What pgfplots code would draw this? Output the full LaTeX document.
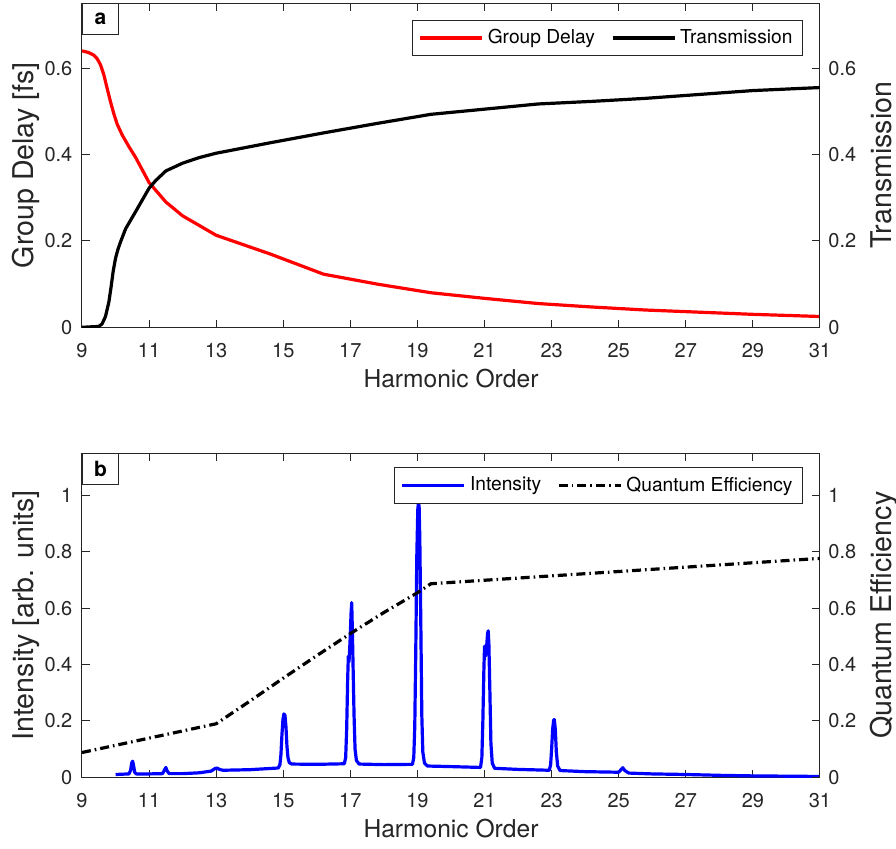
\documentclass[border=0pt]{standalone}
\usepackage{fontspec}
\setmainfont{TeX Gyre Heros}
\usepackage{pgfplots}
\pgfplotsset{compat=1.18}
\definecolor{axc}{gray}{0.15}

\tikzset{
  boxlab/.style={draw=axc, fill=white, line width=0.5pt, anchor=north west,
    minimum width=18pt, minimum height=15.4pt, inner sep=0pt,
    font=\fontsize{10.5}{12}\selectfont\bfseries},
}
\pgfplotsset{
  base/.style={
    scale only axis, width=369pt, height=162pt,
    anchor=south west,
    xmin=9, xmax=31, xtick={9,11,...,31},
    axis line style={axc, line width=0.5pt},
    every tick/.style={axc, line width=0.5pt},
    major tick length=3.8pt,
    tick align=inside,
    tick label style={font=\fontsize{10}{12}\selectfont, text=axc},
    /pgf/number format/assume math mode=true,
    xticklabel style={anchor=center, yshift=-11.6pt},
    every axis x label/.style={at={(axis description cs:0.5,0)}, anchor=base, yshift=-30pt, font=\fontsize{12.3}{14}\selectfont, text=axc},
    every axis plot/.append style={line join=round},
  },
  lefty/.style={
    ytick pos=left, xtick pos=both,
    yticklabel style={anchor=east, xshift=-1.3pt},
    every axis y label/.style={at={(axis description cs:-0.066,0.5)}, rotate=90, anchor=base, font=\fontsize{14.3}{16}\selectfont, text=axc},
  },
  righty/.style={
    axis x line=none, axis y line*=right,
    tick align=inside,
    yticklabel style={anchor=west, xshift=0.7pt},
    every axis y label/.style={at={(axis description cs:1.0972,0.5)}, rotate=90, anchor=base, font=\fontsize{14.3}{16}\selectfont, text=axc},
    legend columns=2,
    legend image code/.code={\draw[#1] (0pt,0pt) -- (31pt,0pt);},
    legend style={at={(rel axis cs:1,1)}, anchor=north east, xshift=-8.5pt,
      draw=axc, line width=0.5pt, fill=white, font=\fontsize{9.6}{11}\selectfont,
      inner xsep=3pt, inner ysep=2.5pt, legend cell align=left,
      /tikz/every even column/.append style={column sep=6pt}},
  },
}

\begin{document}
\begin{tikzpicture}
\useasboundingbox (0,0) rectangle (448pt,424pt);

% ---------------- panel a ----------------
\begin{axis}[base, lefty, at={(41pt,260.35pt)},
  ymin=0, ymax=0.75, ytick={0,0.2,0.4,0.6},
  ylabel={Group Delay [fs]}, xlabel={Harmonic Order}]
\addplot[red, line width=1.6pt] coordinates {
(9,0.640) (9.2,0.636) (9.35,0.630) (9.45,0.622) (9.55,0.608) (9.65,0.585)
(9.75,0.553) (9.85,0.522) (9.95,0.494) (10.05,0.470) (10.2,0.445) (10.4,0.418) (10.6,0.393)
(11.0,0.335) (11.5,0.290) (12.0,0.258) (12.4,0.240) (13.0,0.213) (14.6,0.170)
(16.2,0.123) (17.8,0.100) (19.4,0.080) (21.0,0.067) (22.6,0.055) (24.2,0.047)
(25.8,0.040) (27.4,0.035) (29.0,0.030) (31.0,0.025)};
\node[boxlab] at (rel axis cs:0,1) {a};
\end{axis}
\begin{axis}[base, righty, at={(41pt,260.35pt)},
  ymin=0, ymax=0.75, ytick={0,0.2,0.4,0.6},
  ylabel={Transmission},
  legend style={yshift=-8.3pt}]
\addlegendimage{red, line width=1.6pt}
\addlegendentry{Group Delay}
\addplot[black, line width=1.6pt] coordinates {
(9,0) (9.5,0.002) (9.6,0.008) (9.7,0.025) (9.8,0.058) (9.87,0.095) (9.93,0.130)
(10.0,0.160) (10.07,0.180) (10.15,0.198) (10.3,0.228) (10.6,0.268) (11.0,0.322) (11.2,0.340)
(11.5,0.362) (12.0,0.380) (12.5,0.393) (13.0,0.403) (14.6,0.427) (16.2,0.450)
(17.8,0.472) (19.4,0.493) (21.0,0.505) (22.6,0.517) (24.2,0.523) (25.8,0.530)
(27.4,0.539) (29.0,0.548) (31.0,0.555)};
\addlegendentry{Transmission}
\end{axis}

% ---------------- panel b ----------------
\begin{axis}[base, lefty, at={(41pt,35.35pt)},
  ymin=0, ymax=1.15, ytick={0,0.2,0.4,0.6,0.8,1},
  ylabel={Intensity [arb. units]}, xlabel={Harmonic Order}]
\addplot[blue, line width=1.6pt] coordinates {
(10.00,0.010) (10.20,0.011) (10.40,0.012) (10.45,0.025) (10.48,0.050) (10.51,0.057)
(10.54,0.040) (10.57,0.018) (10.62,0.012) (11.00,0.012) (11.40,0.013) (11.46,0.026) (11.50,0.035)
(11.54,0.022) (11.60,0.013) (12.00,0.013) (12.50,0.016) (12.85,0.022) (12.95,0.030) (13.02,0.033)
(13.10,0.028) (13.20,0.025) (14.00,0.027) (14.85,0.033) (14.90,0.045) (14.93,0.080)
(14.96,0.150) (14.99,0.205) (15.02,0.225) (15.05,0.220) (15.08,0.180) (15.11,0.110)
(15.14,0.070) (15.18,0.052) (15.25,0.047) (16.00,0.046) (16.82,0.048) (16.86,0.070)
(16.89,0.170) (16.92,0.350) (16.94,0.430) (16.96,0.410) (16.99,0.480) (17.02,0.580)
(17.04,0.620) (17.06,0.520) (17.08,0.400) (17.11,0.220) (17.14,0.100) (17.18,0.060)
(17.26,0.047) (18.00,0.045) (18.85,0.046) (18.89,0.070) (18.92,0.180) (18.95,0.450)
(18.98,0.780) (19.01,0.950) (19.03,0.975) (19.05,0.960) (19.07,0.850) (19.10,0.550)
(19.13,0.220) (19.16,0.090) (19.21,0.050) (19.30,0.040) (20.00,0.038) (20.88,0.035)
(20.92,0.070) (20.95,0.200) (20.98,0.380) (21.00,0.465) (21.03,0.430) (21.06,0.460)
(21.09,0.510) (21.11,0.520) (21.13,0.470) (21.16,0.300) (21.19,0.120) (21.23,0.050)
(21.30,0.032) (22.00,0.028) (22.93,0.025) (22.97,0.045) (23.00,0.100) (23.03,0.170)
(23.06,0.203) (23.08,0.205) (23.11,0.170) (23.14,0.090) (23.18,0.040) (23.25,0.024)
(24.00,0.020) (25.00,0.018) (25.06,0.026) (25.12,0.034) (25.18,0.024) (25.30,0.015)
(26.00,0.012) (27.00,0.010) (28.00,0.007) (29.00,0.005) (30.00,0.004) (31.00,0.003)};
\node[boxlab] at (rel axis cs:0,1) {b};
\end{axis}
\begin{axis}[base, righty, at={(41pt,35.35pt)},
  ymin=0, ymax=1.15, ytick={0,0.2,0.4,0.6,0.8,1},
  ylabel={Quantum Efficiency},
  legend style={yshift=-7pt}]
\addlegendimage{blue, line width=1.6pt}
\addlegendentry{Intensity}
\addplot[black, line width=1.6pt, dash pattern=on 4.5pt off 2pt on 0.8pt off 2pt] coordinates {
(9,0.088) (13,0.190) (14,0.270) (15,0.352) (16,0.432) (17,0.510) (18,0.585)
(19,0.655) (19.4,0.687) (31,0.777)};
\addlegendentry{Quantum Efficiency}
\end{axis}
\end{tikzpicture}
\end{document}
